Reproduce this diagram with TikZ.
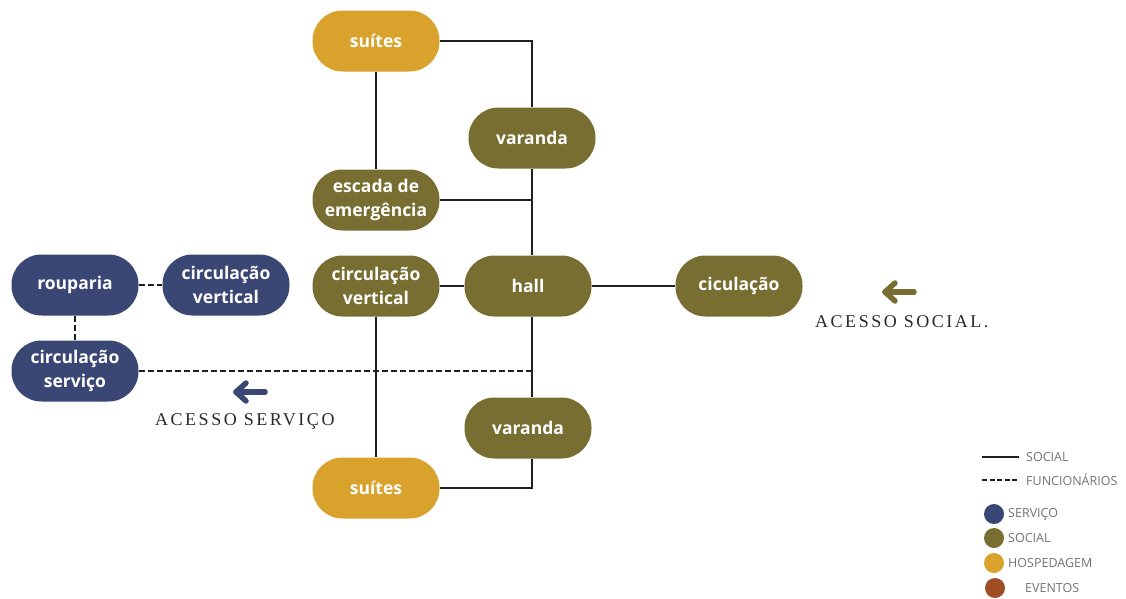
\documentclass[tikz,border=0pt]{standalone}
\usepackage{fontspec}
\usetikzlibrary{calc}
\newfontfamily\nodefont{Open Sans}
\newfontfamily\accfont{Liberation Serif}[LetterSpace=14]
\newfontfamily\legfont{Open Sans}
\definecolor{cserv}{RGB}{58,70,115}
\definecolor{csoc}{RGB}{120,110,50}
\definecolor{chosp}{RGB}{216,162,44}
\definecolor{cev}{RGB}{160,78,38}
\definecolor{cleg}{RGB}{115,115,115}
\definecolor{cacc}{RGB}{40,40,50}
\tikzset{
  pill/.style={draw=none, rounded corners=30pt, minimum width=127pt, minimum height=61pt,
    text=white, align=center, inner sep=2pt, font=\nodefont\bfseries\fontsize{17.5}{24}\selectfont},
  serv/.style={pill, fill=cserv},
  soci/.style={pill, fill=csoc},
  hosp/.style={pill, fill=chosp},
  socline/.style={line width=2.6pt, draw=black!88},
  funline/.style={line width=2.6pt, draw=black!88, dash pattern=on 6pt off 3pt},
  acc/.style={font=\accfont\fontsize{18}{20}\selectfont, text=cacc, inner sep=0pt},
  arr/.style={line width=5.5pt, line cap=round, line join=round},
  legtxt/.style={font=\legfont\fontsize{12.5}{14}\selectfont, text=cleg, anchor=west, inner sep=0pt},
  legdot/.style={circle, minimum size=20pt, inner sep=0pt, draw=none}
}
\begin{document}
\begin{tikzpicture}[x=1pt,y=-1pt]
\useasboundingbox (0,0) rectangle (1126,598);
\coordinate (sp) at (532,0);
% nodes
\node[hosp] (suitesT) at (376,41) {suítes};
\node[soci] (varandaT) at (532,138) {varanda};
\node[soci] (escada) at (376,200) {escada de\\emergência};
\node[soci] (circvO) at (376,286) {circulação\\vertical};
\node[soci] (hall) at (528,286) {hall};
\node[soci] (cic) at (739,286) {ciculação};
\node[soci] (varandaB) at (528,428) {varanda};
\node[hosp] (suitesB) at (376,488) {suítes};
\node[serv] (roup) at (75,285) {rouparia};
\node[serv] (circvB) at (226,285) {circulação\\vertical};
\node[serv] (circS) at (75,371) {circulação\\serviço};
% social connectors
\draw[socline] (suitesT.east) -| (varandaT.north);
\draw[socline] (suitesT.south) -- (escada.north);
\draw[socline] (varandaT.south) -- (varandaT.south |- hall.north);
\draw[socline] (escada.east) -- (escada.east -| sp);
\draw[socline] (circvO.east) -- (hall.west);
\draw[socline] (hall.east) -- (cic.west);
\draw[socline] (circvO.south) -- (suitesB.north);
\draw[socline] (hall.south -| sp) -- (varandaB.north -| sp);
\draw[socline] (varandaB.south -| sp) |- (suitesB.east);
% staff connectors
\draw[funline] (circS.east) -- (circS.east -| sp);
\draw[funline] (roup.east) -- (circvB.west);
\draw[funline] (roup.south) -- (circS.north);
% access arrows
\coordinate (aS1) at (914,292);
\coordinate (aS2) at (885,292);
\draw[arr, draw=csoc] (aS1) -- (aS2);
\draw[arr, draw=csoc] ($(aS2)+(10,-9)$) -- (aS2) -- ($(aS2)+(10,9)$);
\node[acc, anchor=west] (accS) at (815,322) {ACESSO SOCIAL.};
\coordinate (aV1) at (265,392);
\coordinate (aV2) at (236,392);
\draw[arr, draw=cserv] (aV1) -- (aV2);
\draw[arr, draw=cserv] ($(aV2)+(10,-9)$) -- (aV2) -- ($(aV2)+(10,9)$);
\node[acc, anchor=west] (accV) at (155,421) {ACESSO SERVIÇO};
% legend
\coordinate (l1a) at (982,457);
\coordinate (l1b) at (1019,457);
\draw[line width=2.2pt, draw=black!88] (l1a) -- (l1b);
\node[legtxt] (lt1) at (1026,457) {SOCIAL};
\coordinate (l2a) at (982,480);
\coordinate (l2b) at (1019,480);
\draw[line width=2.6pt, draw=black!88, dash pattern=on 5pt off 2.5pt] (l2a) -- (l2b);
\node[legtxt] (lt2) at (1026,480) {FUNCIONÁRIOS};
\node[legdot, fill=cserv] (d1) at (994,514) {};
\node[legtxt] (lt3) at (1008,514) {SERVIÇO};
\node[legdot, fill=csoc] (d2) at (994,538) {};
\node[legtxt] (lt4) at (1008,538) {SOCIAL};
\node[legdot, fill=chosp] (d3) at (994,563) {};
\node[legtxt] (lt5) at (1008,563) {HOSPEDAGEM};
\node[legdot, fill=cev] (d4) at (995,588) {};
\node[legtxt] (lt6) at (1025,588) {EVENTOS};
\end{tikzpicture}
\end{document}
